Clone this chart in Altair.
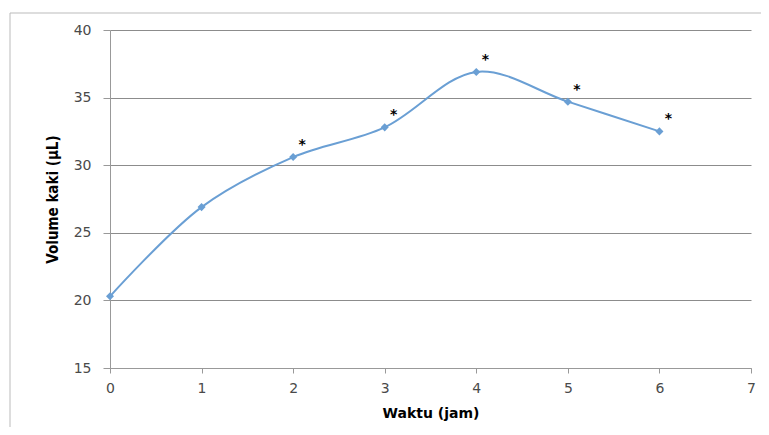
import altair as alt
import pandas as pd

hours = [0, 1, 2, 3, 4, 5, 6]
volume = [20.3, 26.9, 30.6, 32.8, 36.9, 34.7, 32.5]
signif = ["", "", "*", "*", "*", "*", "*"]

df = pd.DataFrame({"Waktu": hours, "Volume": volume, "sig": signif})

W, H = 641, 338
PADL, PADT = 102, 22

label_font = "DejaVu Sans"
line_color = "#6a9fd4"

x_enc = alt.X(
    "Waktu:Q",
    scale=alt.Scale(domain=[0, 7], nice=False, zero=False),
    axis=alt.Axis(
        title="Waktu (jam)",
        values=list(range(0, 8)),
        format="d",
        grid=False,
        tickSize=5,
        tickColor="#999999",
        domainColor="#999999",
        labelPadding=8,
        labelFlush=False,
        labelFont=label_font,
        labelFontSize=14,
        labelColor="#4a4a4a",
        titleFont="DejaVu Sans",
        titleFontSize=14,
        titleFontWeight="bold",
        titleColor="#000000",
        titleX=W / 2,
        titleY=45,
        titleBaseline="middle",
        titleAlign="center",
    ),
)
y_enc = alt.Y(
    "Volume:Q",
    scale=alt.Scale(domain=[15, 40], nice=False, zero=False),
    axis=alt.Axis(
        title="Volume kaki (µL)",
        values=[15, 20, 25, 30, 35, 40],
        grid=True,
        gridColor="#8c8c8c",
        gridWidth=1,
        tickSize=7,
        tickColor="#999999",
        domainColor="#999999",
        labelPadding=12,
        labelFlush=False,
        labelFont=label_font,
        labelFontSize=14,
        labelColor="#4a4a4a",
        titleFont="DejaVu Sans Condensed",
        titleFontSize=15,
        titleFontWeight="bold",
        titleColor="#000000",
        titleX=-58,
        titleY=H / 2,
        titleAngle=-90,
        titleBaseline="middle",
        titleAlign="center",
    ),
)

base = alt.Chart(df)

line = base.mark_line(color=line_color, strokeWidth=2, interpolate="catmull-rom").encode(
    x=x_enc, y=y_enc
)
points = base.mark_point(
    shape="diamond", filled=True, color=line_color, size=65, opacity=1
).encode(x="Waktu:Q", y="Volume:Q")
stars = base.mark_text(
    dx=9, dy=-12, fontSize=14, fontWeight="bold", color="#000000", font="DejaVu Sans"
).encode(x="Waktu:Q", y="Volume:Q", text="sig:N")

frame = alt.Chart(pd.DataFrame({"a": [0]})).mark_rect(
    fill=None, stroke="#bbbbbb", strokeWidth=1, clip=False
).encode(
    x=alt.value(-100), x2=alt.value(720), y=alt.value(-17), y2=alt.value(440)
)

chart = (
    alt.layer(frame, line, points, stars)
    .properties(
        width=W,
        height=H,
        autosize=alt.AutoSizeParams(type="none"),
        padding={"left": PADL, "top": PADT, "right": 10, "bottom": 59},
        background="white",
    )
    .configure_view(stroke=None)
)

chart.save("out.html", embed_options={"renderer": "svg", "actions": False})
